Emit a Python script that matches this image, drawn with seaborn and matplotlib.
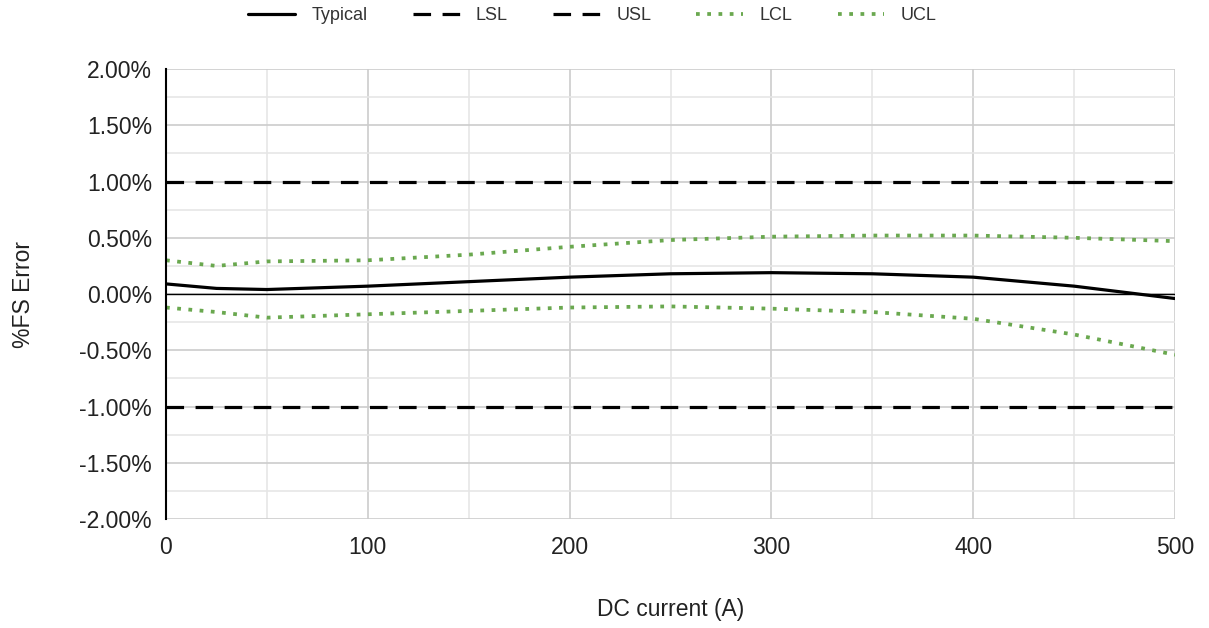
import matplotlib
matplotlib.use("Agg")
import pandas as pd
import seaborn as sns
import matplotlib.pyplot as plt
from matplotlib.ticker import MultipleLocator, FuncFormatter

# Readings (x in A, errors in %FS)
current = [0, 25, 50, 100, 150, 200, 250, 300, 350, 400, 450, 500]
typical = [0.09, 0.05, 0.04, 0.07, 0.11, 0.15, 0.18, 0.19, 0.18, 0.15, 0.07, -0.04]
lsl = [-1.0] * len(current)
usl = [1.0] * len(current)
lcl = [-0.12, -0.16, -0.21, -0.18, -0.15, -0.12, -0.11, -0.13, -0.16, -0.22, -0.36, -0.54]
ucl = [0.30, 0.25, 0.29, 0.30, 0.35, 0.42, 0.48, 0.51, 0.52, 0.52, 0.50, 0.47]

df = pd.DataFrame({"current": current, "Typical": typical, "LSL": lsl,
                   "USL": usl, "LCL": lcl, "UCL": ucl})

sns.set_style("white")
plt.rcParams['font.family'] = ['Liberation Sans', 'DejaVu Sans']

fig = plt.figure(figsize=(12.09, 6.28), dpi=100)
ax = fig.add_axes([0.1373, 0.1736, 0.8346, 0.7164])

green = '#6aa84f'
dash = (0, (5.5, 3.6))
dot = (0, (1, 2.0))

sns.lineplot(data=df, x="current", y="Typical", ax=ax, color="black", lw=2.3, label="Typical")
sns.lineplot(data=df, x="current", y="LSL", ax=ax, color="black", lw=2.3, linestyle=dash, label="LSL")
sns.lineplot(data=df, x="current", y="USL", ax=ax, color="black", lw=2.3, linestyle=dash, label="USL")
sns.lineplot(data=df, x="current", y="LCL", ax=ax, color=green, lw=2.7, linestyle=dot, label="LCL")
sns.lineplot(data=df, x="current", y="UCL", ax=ax, color=green, lw=2.7, linestyle=dot, label="UCL")

ax.set_xlim(0, 500)
ax.set_ylim(-2, 2)
ax.xaxis.set_major_locator(MultipleLocator(100))
ax.xaxis.set_minor_locator(MultipleLocator(50))
ax.yaxis.set_major_locator(MultipleLocator(0.5))
ax.yaxis.set_minor_locator(MultipleLocator(0.25))
ax.yaxis.set_major_formatter(FuncFormatter(lambda v, p: f"{v:.2f}%"))

# Gridlines like the spreadsheet chart
ax.grid(which='major', color='#cccccc', lw=1.2)
ax.grid(which='minor', color='#e6e6e6', lw=1.2)
ax.set_axisbelow(True)
ax.axhline(0, color='black', lw=1, zorder=1.5)

for s in ['top', 'right', 'bottom']:
    ax.spines[s].set_visible(False)
ax.spines['left'].set_color('black')
ax.spines['left'].set_linewidth(1.5)

ax.tick_params(which='both', length=0, labelsize=16.5, colors='#222222')
ax.tick_params(axis='y', pad=10)
ax.tick_params(axis='x', pad=12)
ax.set_xlabel('DC current (A)', fontsize=16.5, color='#222222')
ax.set_ylabel('%FS Error', fontsize=16.5, color='#222222')
ax.xaxis.set_label_coords(0.5, -0.175)
ax.yaxis.set_label_coords(-0.13, 0.5)

ax.get_legend().remove()
handles, labels = ax.get_legend_handles_labels()
leg = fig.legend(handles, labels, loc='center', bbox_to_anchor=(0.49, 0.975), ncol=5,
                 frameon=False, fontsize=13, handlelength=2.6, columnspacing=2.5,
                 handletextpad=0.9)
for t in leg.get_texts():
    t.set_color('#333333')

plt.savefig("out.png", dpi=100)
